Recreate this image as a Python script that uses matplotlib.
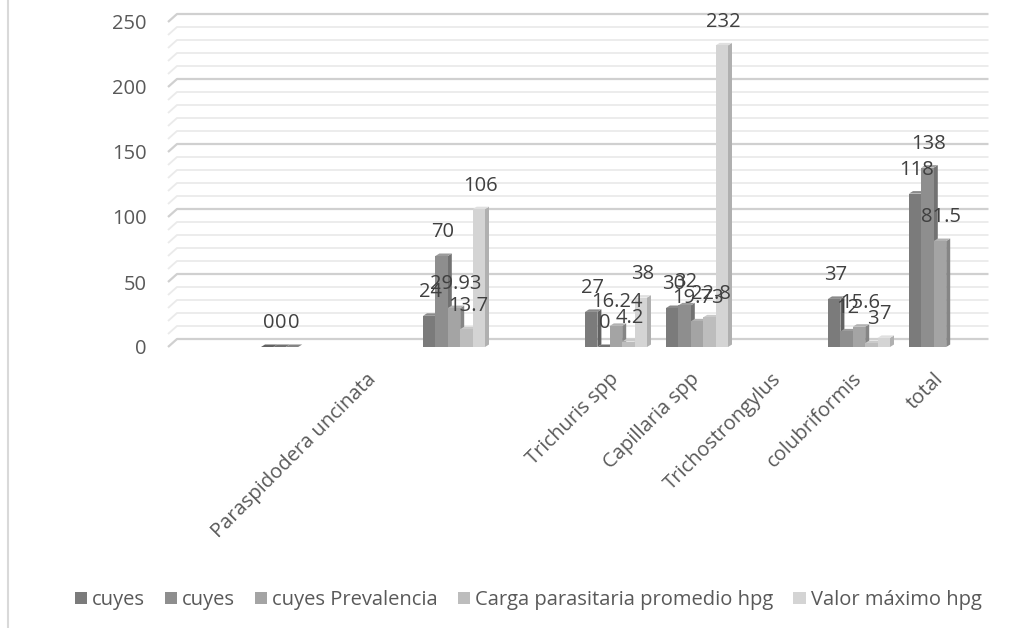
import numpy as np
import matplotlib
matplotlib.use('Agg')
import matplotlib.pyplot as plt
from matplotlib.patches import Polygon, Patch
from matplotlib.lines import Line2D

plt.rcParams['font.family'] = ['Open Sans', 'DejaVu Sans']

nan = np.nan
#categories and series
categories = ['', '', 'Paraspidodera uncinata', '', '', 'Trichuris spp',
              'Capillaria spp', 'Trichostrongylus', 'colubriformis', 'total']
series_names = ['cuyes', 'cuyes', 'cuyes Prevalencia',
                'Carga parasitaria promedio hpg', 'Valor máximo hpg']
cuyes_a = [nan, 0, nan, 24, nan, 27, 30, nan, 37, 118]
cuyes_b = [nan, 0, nan, 70, nan, 0, 32, nan, 12, 138]
prevalencia = [nan, 0, nan, 29.93, nan, 16.24, 19.73, nan, 15.6, 81.5]
carga = [nan, nan, nan, 13.7, nan, 4.2, 22.8, nan, 3, nan]
valor_max = [nan, nan, nan, 106, nan, 38, 232, nan, 7, nan]
series = [cuyes_a, cuyes_b, prevalencia, carga, valor_max]

front = ['#7b7b7b', '#8e8e8e', '#a4a4a4', '#bdbdbd', '#d4d4d4']
side = ['#626262', '#727272', '#858585', '#9c9c9c', '#b0b0b0']
top = ['#8a8a8a', '#9c9c9c', '#b2b2b2', '#cacaca', '#e0e0e0']

fig = plt.figure(figsize=(10.3, 6.28), dpi=100)
ax = fig.add_axes([170.5/1030, (628-347)/628, 810/1030, 325/628])
ax.set_xlim(-0.5, 9.5)
ax.set_ylim(0, 250)

#pixel sizes in data units
px_x = 1/81
px_y = 250/325

#3d-ish gridlines (back wall)
gdx, gdy = 9*px_x, 8*px_y
x_left = -0.5 - 2.5*px_x
x_right = 9.5 + 8*px_x
for v in range(0, 251, 10):
    major = v % 50 == 0
    c = '#d0d0d0' if major else '#eaeaea'
    lw = 1.6 if major else 1.3
    ax.plot([x_left, x_left+gdx, x_right], [v, v+gdy, v+gdy], color=c, lw=lw,
            clip_on=False, zorder=1, solid_capstyle='butt')

#bars
w = 12.4*px_x
ddx, ddy = 4*px_x, 2.5*px_y
x = np.arange(len(categories))
for i, vals in enumerate(series):
    for j, h in enumerate(vals):
        if np.isnan(h):
            continue
        xc = x[j] + (i-2)*w
        x0, x1 = xc - w/2, xc + w/2
        ax.add_patch(Polygon([(x1, 0), (x1+ddx, ddy), (x1+ddx, h+ddy), (x1, h)],
                             closed=True, fc=side[i], ec='none', zorder=2+i, clip_on=False))
        ax.add_patch(Polygon([(x0, h), (x1, h), (x1+ddx, h+ddy), (x0+ddx, h+ddy)],
                             closed=True, fc=top[i] if h > 0 else side[i], ec='none',
                             zorder=2+i, clip_on=False))
        if h > 0:
            ax.add_patch(Polygon([(x0, 0), (x1, 0), (x1, h), (x0, h)],
                                 closed=True, fc=front[i], ec='none', zorder=2+i, clip_on=False))
        lab = ('%g' % h)
        ax.annotate(lab, (xc, h), xytext=(1, 17), textcoords='offset points',
                    ha='center', va='center', fontsize=14.5, color='#404040', zorder=20)

ax.set_yticks(range(0, 251, 50))
ax.set_yticklabels([str(v) for v in range(0, 251, 50)])
ax.tick_params(axis='y', length=0, pad=17, labelsize=14.5, labelcolor='#595959')
ax.set_xticks(x)
ax.set_xticklabels(categories, rotation=45, ha='right', va='center',
                   rotation_mode='anchor')
ax.tick_params(axis='x', length=0, pad=21, labelsize=14.5, labelcolor='#595959')
for s in ax.spines.values():
    s.set_visible(False)

#chart border on the left
fig.add_artist(Line2D([8/1030, 8/1030], [0, 1], color='#d9d9d9', lw=1.5))

handles = [Patch(fc=front[i], ec='none') for i in range(5)]
fig.legend(handles, series_names, loc='center', bbox_to_anchor=(528/1030, 1-600/628),
           ncol=5, frameon=False, fontsize=14.5, handlelength=0.6, handleheight=0.6,
           handletextpad=0.25, columnspacing=1.0, labelcolor='#595959')

fig.savefig('out.png', dpi=100)
